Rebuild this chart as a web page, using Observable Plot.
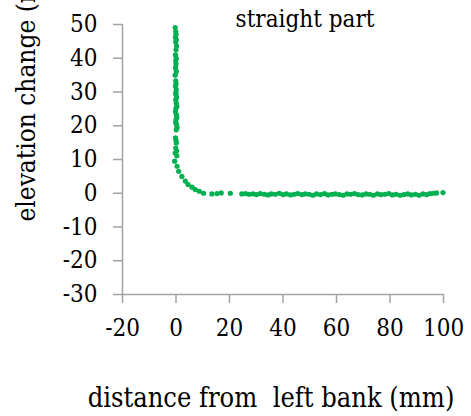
<!DOCTYPE html>
<html>
<head>
<meta charset="utf-8">
<script src="https://cdn.jsdelivr.net/npm/d3@7"></script>
<script src="https://cdn.jsdelivr.net/npm/@observablehq/plot@0.6"></script>
<style>
  html, body { margin: 0; padding: 0; background: #fff; }
  #chart svg text { font-stretch: condensed; }
</style>
</head>
<body>
<div id="chart"></div>
<script>
// Bed elevation change across the straight reach, measured from the left bank.
const distance = [
  -0.3, -0.1, 0.0, -0.2, 0.1, -0.1, 0.2, 0.0, -0.2, 0.1, -0.1, 0.0, -0.2, 0.1, -0.3,
  -0.1, 0.0, -0.2, 0.1, -0.1, 0.0, 0.2, -0.1, 0.1, 0.3, 0.0, -0.2, 0.1, 0.3, 0.0,
  -0.1, 0.2, 0.4, 0.1, -0.2, 0.0, 0.1, -0.1, 0.2, -0.3, 0.3,
  -0.5, 0.4, 1.0, 2.2, 3.5, 4.5, 6.0, 7.2, 8.7, 10.3, 13.4, 15.3, 16.9, 20.3,
  24.6, 26.0, 27.3, 28.8, 30.1, 31.5, 33.0, 34.4, 35.6, 37.1, 38.6, 40.0, 41.3, 42.8,
  44.2, 45.5, 47.0, 48.3, 49.8, 51.2, 52.5, 54.0, 55.5, 56.8, 58.3, 59.6, 61.1, 62.5,
  63.9, 65.3, 66.7, 68.1, 69.6, 71.0, 72.4, 73.8, 75.3, 76.6, 78.1, 79.5, 80.9, 82.3,
  83.8, 85.2, 86.6, 88.0, 89.5, 90.9, 92.3, 93.7, 95.0, 96.3, 97.4, 99.8
];
const elevation = [
  49.1, 47.9, 47.1, 46.2, 45.5, 44.8, 43.6, 42.5, 41.0, 40.0, 39.2, 38.3, 37.2, 36.1, 35.0,
  33.3, 32.4, 31.7, 30.7, 29.8, 29.2, 28.4, 27.7, 26.7, 25.8, 25.2, 24.2, 23.3, 22.5, 21.8,
  21.0, 20.3, 19.5, 18.8, 16.4, 15.6, 14.9, 13.4, 12.6, 11.9, 11.1,
  9.5, 8.0, 6.5, 5.0, 3.6, 2.6, 1.8, 1.1, 0.6, 0.0, -0.2, -0.1, 0.1, 0.0,
  -0.2, -0.1, -0.3, -0.2, -0.4, -0.1, -0.3, -0.5, -0.2, -0.3, 0.0, -0.4, -0.2, -0.5,
  -0.3, -0.1, -0.4, -0.2, -0.3, -0.6, -0.2, -0.4, -0.1, -0.5, -0.3, -0.2, -0.4, -0.6,
  -0.2, -0.3, -0.1, -0.4, -0.5, -0.2, -0.3, -0.6, -0.2, -0.4, -0.3, -0.1, -0.5, -0.3,
  -0.6, -0.4, -0.2, -0.5, -0.3, -0.6, -0.2, -0.4, -0.1, 0.0, 0.1, 0.2
];

const xTicks = [-20, 0, 20, 40, 60, 80, 100];
const yTicks = [-30, -20, -10, 0, 10, 20, 30, 40, 50];

const title = "straight part";
const xLabel = "distance from  left bank (mm)";
const yLabel = "elevation change (mm)";

const points = distance.map((d, i) => ({distance: d, elevation: elevation[i]}));

const axisColor = "#a3a3a3";
const serif = "DejaVu Serif";

const chart = Plot.plot({
  width: 471,
  height: 416,
  marginTop: 24,
  marginRight: 28,
  marginBottom: 122,
  marginLeft: 122,
  style: {fontSize: "24px", color: "#000", background: "#fff"},
  x: {domain: [-20, 100]},
  y: {domain: [-30, 50]},
  marks: [
    Plot.ruleX([-20], {stroke: axisColor, strokeWidth: 1.5}),
    Plot.ruleY([-30], {stroke: axisColor, strokeWidth: 1.5}),
    Plot.axisX({
      ticks: xTicks, tickSize: 9, tickPadding: 15, stroke: axisColor, strokeWidth: 1.5,
      fill: "#000", fontSize: 24, fontFamily: serif, tickFormat: d => String(d), label: null
    }),
    Plot.axisY({
      ticks: yTicks, tickSize: 9, tickPadding: 16, stroke: axisColor, strokeWidth: 1.5,
      fill: "#000", fontSize: 24, fontFamily: serif, tickFormat: d => String(d), label: null
    }),
    Plot.dot(points, {x: "distance", y: "elevation", r: 2.6, fill: "#00b050", stroke: "none"}),
    Plot.text([title], {
      frameAnchor: "top", dx: 22, dy: -5, lineAnchor: "middle",
      fontSize: 24, fontFamily: serif, fill: "#000"
    }),
    Plot.text([xLabel], {
      frameAnchor: "bottom", dx: -12, dy: 104, lineAnchor: "middle",
      fontSize: 27, fontFamily: serif, fill: "#000"
    }),
    Plot.text([yLabel], {
      frameAnchor: "left", rotate: -90, dx: -96, dy: 62, lineAnchor: "middle",
      fontSize: 26, fontFamily: serif, fill: "#000"
    })
  ]
});

document.getElementById("chart").append(chart);
</script>
</body>
</html>
